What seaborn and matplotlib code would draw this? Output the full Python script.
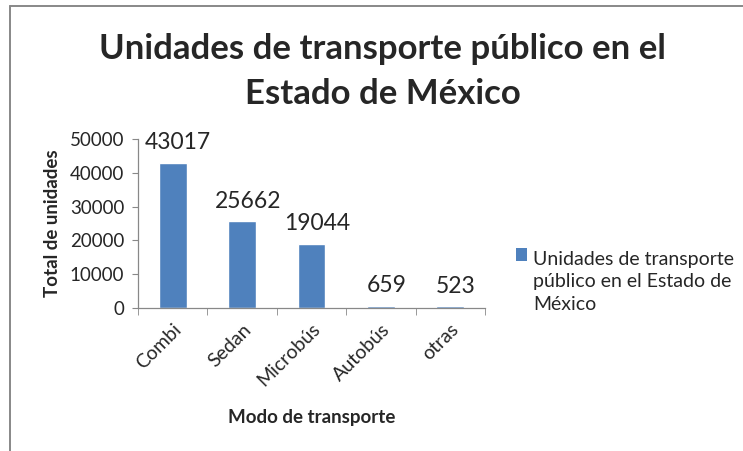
import numpy as np
import pandas as pd
import matplotlib
matplotlib.use("Agg")
import matplotlib.pyplot as plt
from matplotlib.lines import Line2D
from matplotlib.patches import Patch
import seaborn as sns

# data
modos = ["Combi", "Sedan", "Microbús", "Autobús", "otras"]
unidades = [43017, 25662, 19044, 659, 523]
serie = "Unidades de transporte público en el Estado de México"

df = pd.DataFrame({"modo": modos, "unidades": unidades})

sns.set_style("white")
plt.rcParams["font.family"] = ["Lato", "DejaVu Sans"]

fig = plt.figure(figsize=(7.43, 4.51), dpi=100)
ax = fig.add_axes([138 / 743, 1 - 308 / 451, (485 - 138) / 743, (308 - 139) / 451])

bar_color = "#4F81BD"
sns.barplot(data=df, x="modo", y="unidades", color=bar_color, width=0.4,
            saturation=1, ax=ax)

ax.set_ylim(0, 50000)
ax.set_xlim(-0.5, len(modos) - 0.5)
ax.set_yticks(range(0, 50001, 10000))
ax.tick_params(axis="y", labelsize=13.5, length=4, color="#888888", direction="out", left=True, pad=6)
ax.tick_params(axis="x", which="major", length=0, labelsize=14, pad=9)
ax.set_xticks(np.arange(-0.5, len(modos)), minor=True)
ax.tick_params(axis="x", which="minor", length=5, color="#888888", bottom=True, direction="out")
plt.setp(ax.get_xticklabels(), rotation=45, ha="right", rotation_mode="anchor")

for s in ["top", "right"]:
    ax.spines[s].set_visible(False)
for s in ["left", "bottom"]:
    ax.spines[s].set_color("#888888")
    ax.spines[s].set_linewidth(0.9)

for i, v in enumerate(unidades):
    ax.annotate(str(v), (i, v), xytext=(4, 7), textcoords="offset points",
                ha="center", va="bottom", fontsize=16.5)

ax.set_xlabel("Modo de transporte", fontsize=13.5, fontweight="bold", labelpad=14)
ax.set_ylabel("Total de unidades", fontsize=13.5, fontweight="bold", labelpad=6)

fig.text(0.515, 0.926, "Unidades de transporte público en el\nEstado de México",
         ha="center", va="top", fontsize=25, fontweight="bold", linespacing=1.5)

handle = Patch(facecolor=bar_color, edgecolor="none")
leg = fig.legend([handle], ["Unidades de transporte\npúblico en el Estado de\nMéxico"],
                 loc="upper left", bbox_to_anchor=(498 / 743, 1 - 233 / 451), frameon=False,
                 fontsize=14, handlelength=0.6, handleheight=0.6, handletextpad=0.3)
leg.get_texts()[0].set_linespacing(1.4)
# move the square up to the first line of the label
p = leg.get_patches()[0]
p.set_y(p.get_y() + 1.4 * 14)

# chart area border (top and left only visible)
fig.add_artist(Line2D([10 / 743, 1], [1 - 6 / 451, 1 - 6 / 451], transform=fig.transFigure,
                      color="#888888", linewidth=1.4))
fig.add_artist(Line2D([10 / 743, 10 / 743], [0, 1 - 6 / 451], transform=fig.transFigure,
                      color="#888888", linewidth=1.4))

fig.savefig("out.png", dpi=100)
